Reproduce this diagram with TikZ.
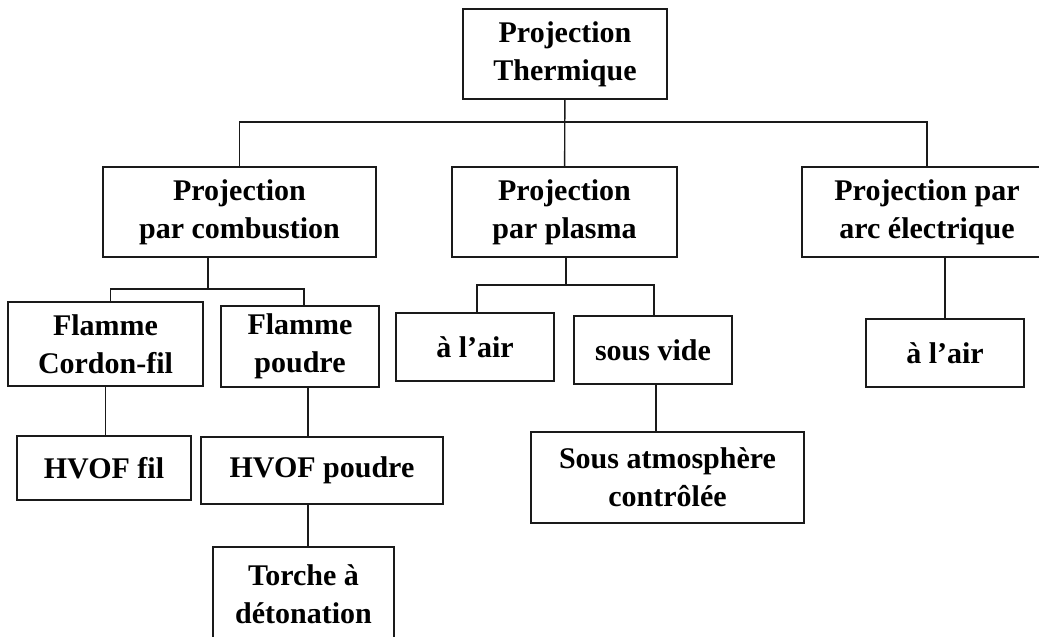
\documentclass[tikz,border=0pt]{standalone}
\usepackage{fontspec}
\setmainfont{Liberation Serif}
\usepackage{tikz}
\usepackage{xcolor}
\definecolor{LineGray}{HTML}{1A1A1A}

\tikzset{
  box/.style={draw=LineGray, line width=1.4pt, fill=white, inner sep=0pt, align=center,
    font=\fontsize{30}{38}\selectfont\bfseries},
  link/.style={draw=LineGray, line width=1.4pt}
}

\begin{document}
\begin{tikzpicture}[x=1pt, y=-1pt]
            \useasboundingbox (0,0) rectangle (1039,637);
            \clip (0,0) rectangle (1039,637);
            % A tree of the thermal spraying processes
            \node[box, minimum width=204pt, minimum height=90pt] (root) at (565,54) {Projection\\Thermique};
            \node[box, minimum width=273pt, minimum height=90pt] (comb) at (239.5,212) {Projection\\par combustion};
            \node[box, minimum width=225pt, minimum height=90pt] (plasma) at (564.5,212) {Projection\\par plasma};
            \node[box, minimum width=250pt, minimum height=90pt] (arc) at (927,212) {Projection par\\arc électrique};
            \node[box, minimum width=195pt, minimum height=84pt] (cordon) at (105.5,344) {Flamme\\Cordon-fil};
            \node[box, minimum width=158pt, minimum height=81pt] (poudre) at (300,346.5) {Flamme\\poudre};
            \node[box, minimum width=158pt, minimum height=68pt] (airP) at (475,347) {à l’air};
            \node[box, minimum width=158pt, minimum height=68pt] (vide) at (653,350) {sous vide};
            \node[box, minimum width=158pt, minimum height=68pt] (airA) at (945,353) {à l’air};
            \node[box, minimum width=174pt, minimum height=64pt] (hvofF) at (104,468) {HVOF fil};
            \node[box, minimum width=242pt, minimum height=67pt] (hvofP) at (322,470.5) {HVOF poudre};
            \node[box, minimum width=273pt, minimum height=91pt] (atmo) at (667.5,477.5) {Sous atmosphère\\contrôlée};
            \node[box, minimum width=181pt, minimum height=94pt] (torche) at (303.5,594) {Torche à\\détonation};

            \coordinate (rootJ) at (565,122);
            \coordinate (combJ) at (208,289);
            \coordinate (plasmaJ) at (566,285);

            \draw[link] (root) -- (plasma);
            \draw[link] (comb.north) |- (rootJ) -| (arc.north);
            \draw[link] (comb.south -| combJ) -- (combJ);
            \draw[link] ([xshift=5pt]cordon.north) |- (combJ) -| ([xshift=4pt]poudre.north);
            \draw[link] (plasma.south -| plasmaJ) -- (plasmaJ);
            \draw[link] ([xshift=2pt]airP.north) |- (plasmaJ) -| ([xshift=1pt]vide.north);
            \draw[link] (airA.north |- arc.south) -- (airA.north);
            \draw[link] ([xshift=3pt]vide.south) -- ([xshift=3pt]vide.south |- atmo.north);
            \draw[link] (cordon.south) -- (cordon.south |- hvofF.north);
            \draw[link] ([xshift=8pt]poudre.south) -- ([xshift=8pt]poudre.south |- hvofP.north);
            \draw[link] ([xshift=-14pt]hvofP.south) -- ([xshift=-14pt]hvofP.south |- torche.north);
        \end{tikzpicture}
\end{document}
